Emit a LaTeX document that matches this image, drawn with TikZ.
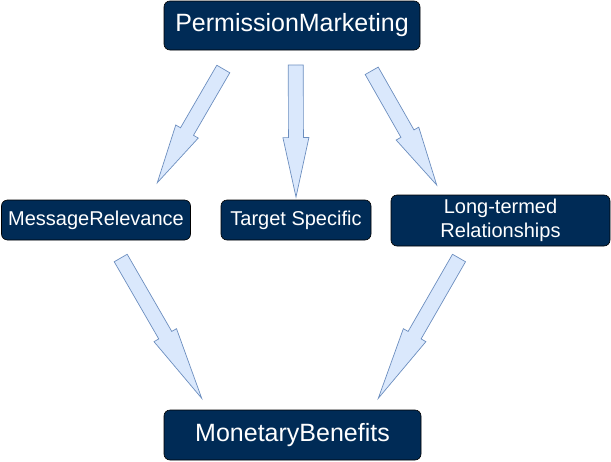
\documentclass[tikz,border=0pt]{standalone}
\usepackage{fontspec}
\setmainfont{Liberation Sans}
\usetikzlibrary{calc}
\definecolor{navy}{RGB}{0,43,86}
\definecolor{arrowfill}{HTML}{DAE8FC}
\definecolor{arrowline}{HTML}{6C8EBF}
\newcommand{\fatarrow}[2]{%
\coordinate (hb) at ($(#2)!0.45!(#1)$);
\draw[fat arrow] ($(#1)!7.5pt!90:(#2)$) -- ($(hb)!7.5pt!90:(#2)$) -- ($(hb)!13pt!90:(#2)$) -- (#2)
 -- ($(hb)!13pt!-90:(#2)$) -- ($(hb)!7.5pt!-90:(#2)$) -- ($(#1)!7.5pt!-90:(#2)$) -- cycle;}

\begin{document}
\begin{tikzpicture}[x=1pt, y=-1pt, main node/.style={draw=black, fill=navy, text=white, rounded corners=6pt, inner sep=0pt, line width=0.6pt}, big/.style={font=\fontsize{25}{30}\selectfont}, small/.style={font=\fontsize{20}{24}\selectfont}, fat arrow/.style={draw=arrowline, fill=arrowfill, line width=0.7pt, line join=miter}]
\useasboundingbox (0,0) rectangle (611,461);
\node[main node, big, minimum width=256pt, minimum height=49pt] (1) at (292,25.5) {PermissionMarketing};
\node[main node, small, minimum width=189pt, minimum height=40pt] (2) at (96,220) {MessageRelevance};
\node[main node, small, minimum width=150pt, minimum height=40pt] (3) at (296,220) {Target Specific};
\node[main node, small, minimum width=219pt, minimum height=51pt, align=center] (4) at (500.5,220.5) {Long-termed\\Relationships};
\node[main node, big, minimum width=257pt, minimum height=50pt] (5) at (292.5,435) {MonetaryBenefits};
% arrow ends
\coordinate (1a) at (223.3,69);
\coordinate (1b) at (157.3,182.7);
\coordinate (2a) at (295.8,65);
\coordinate (2b) at (296,197);
\coordinate (3a) at (371.7,70.8);
\coordinate (3b) at (436.7,185);
\coordinate (4a) at (120.7,258);
\coordinate (4b) at (201.7,398.3);
\coordinate (5a) at (459,258);
\coordinate (5b) at (378.3,398.3);
\fatarrow{1a}{1b}
\fatarrow{2a}{2b}
\fatarrow{3a}{3b}
\fatarrow{4a}{4b}
\fatarrow{5a}{5b}
\end{tikzpicture}
\end{document}
